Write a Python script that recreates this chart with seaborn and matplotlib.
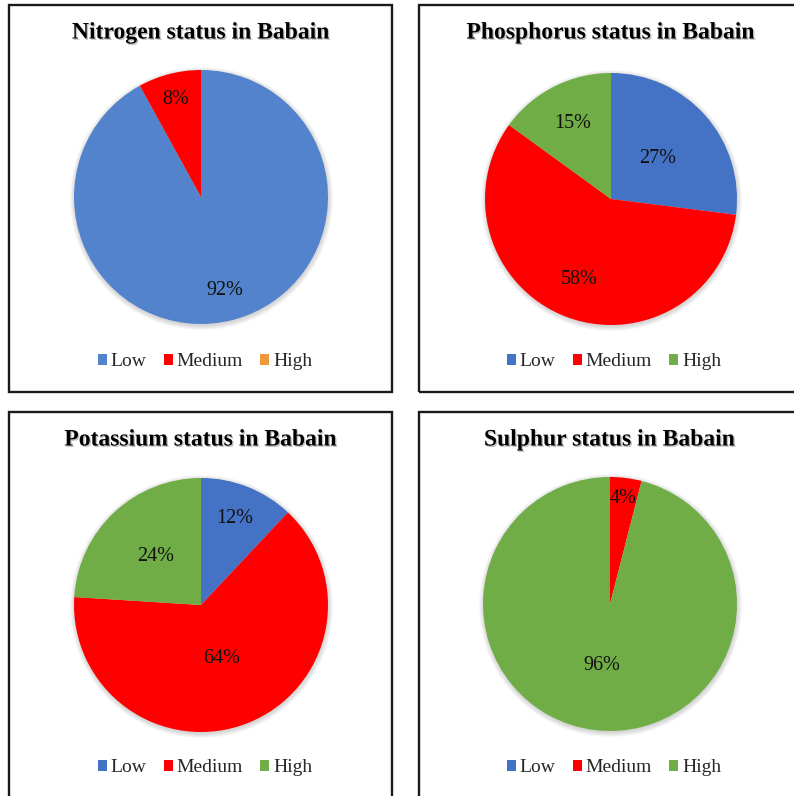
import matplotlib
matplotlib.use("Agg")
import matplotlib.pyplot as plt
import matplotlib.patheffects as pe
import numpy as np
import seaborn as sns
from matplotlib.patches import Rectangle, Circle, Patch

# data -------------------------
categories = ['Low', 'Medium', 'High']
titles = ['Nitrogen status in Babain', 'Phosphorus status in Babain',
          'Potassium status in Babain', 'Sulphur status in Babain']
nitrogen = [92, 8, 0]
phosphorus = [27, 58, 15]
potassium = [12, 64, 24]
sulphur = [0, 4, 96]

# style -------------------------
sns.set_theme(style="white")
plt.rcParams['font.family'] = ['Liberation Serif', 'DejaVu Serif']

W, H = 794, 796
colors_n = ['#5283CC', '#FF0000', '#EE9A3C']
colors_std = ['#4472C4', '#FF0000', '#70AD47']

# pixel layout of each panel: pie centre, radius, title y, legend y, label radii
panels = [
    dict(vals=nitrogen, colors=colors_n, cx=201, cy=197, r=127, ty=33, ly=362, lx=205,
         lab_r=[0.76, 0.79, 0.7]),
    dict(vals=phosphorus, colors=colors_std, cx=611, cy=199, r=126, ty=33, ly=362, lx=614,
         lab_r=[0.49, 0.69, 0.67]),
    dict(vals=potassium, colors=colors_std, cx=201, cy=605, r=127, ty=440, ly=768, lx=205,
         lab_r=[0.73, 0.45, 0.52]),
    dict(vals=sulphur, colors=colors_std, cx=610, cy=604, r=127, ty=440, ly=768, lx=614,
         lab_r=[0.7, 0.84, 0.49]),
]
boxes = [(9, 5, 392, 392), (419, 5, 830, 392), (9, 412, 392, 830), (419, 412, 830, 830)]

fig = plt.figure(figsize=(W / 100, H / 100), dpi=100)
fig.patch.set_facecolor('white')

# panel borders
for x0, y0, x1, y1 in boxes:
    fig.add_artist(Rectangle((x0 / W, 1 - y1 / H), (x1 - x0) / W, (y1 - y0) / H,
                             transform=fig.transFigure, fill=False,
                             edgecolor='#1a1a1a', lw=1.7))

for p, title in zip(panels, titles):
    cx, cy, r = p['cx'], p['cy'], p['r']
    ax = fig.add_axes([(cx - r) / W, 1 - (cy + r) / H, 2 * r / W, 2 * r / H])

    # soft shadow
    for k in range(6):
        ax.add_patch(Circle((0.004, -0.012), 1 + 0.007 * k, color='#555555',
                            alpha=0.045, lw=0, clip_on=False, zorder=0))

    wedges, _ = ax.pie(p['vals'], colors=p['colors'], startangle=90,
                       counterclock=False, radius=1,
                       wedgeprops=dict(linewidth=0))
    ax.set_xlim(-1, 1)
    ax.set_ylim(-1, 1)

    # percent labels from wedge geometry
    for w, v, lr in zip(wedges, p['vals'], p['lab_r']):
        if v == 0:
            continue
        ang = np.deg2rad((w.theta1 + w.theta2) / 2)
        ax.text(lr * np.cos(ang), lr * np.sin(ang), f'{v}%', ha='center', va='center',
                fontsize=14.5, color='#111111')

    fig.text(cx / W, 1 - p['ty'] / H, title, ha='center', va='center',
             fontsize=17, fontweight='bold', color='black',
             path_effects=[pe.withSimplePatchShadow(offset=(1, -1), shadow_rgbFace='#888888', alpha=0.5)])

    handles = [Patch(facecolor=c, edgecolor='none') for c in p['colors']]
    fig.legend(handles, categories, loc='center',
               bbox_to_anchor=(p['lx'] / W, 1 - p['ly'] / H), ncol=3, frameon=False,
               fontsize=14, handlelength=0.45, handleheight=0.45,
               handletextpad=0.2, columnspacing=0.9, borderpad=0)

plt.savefig('out.png', dpi=100)
